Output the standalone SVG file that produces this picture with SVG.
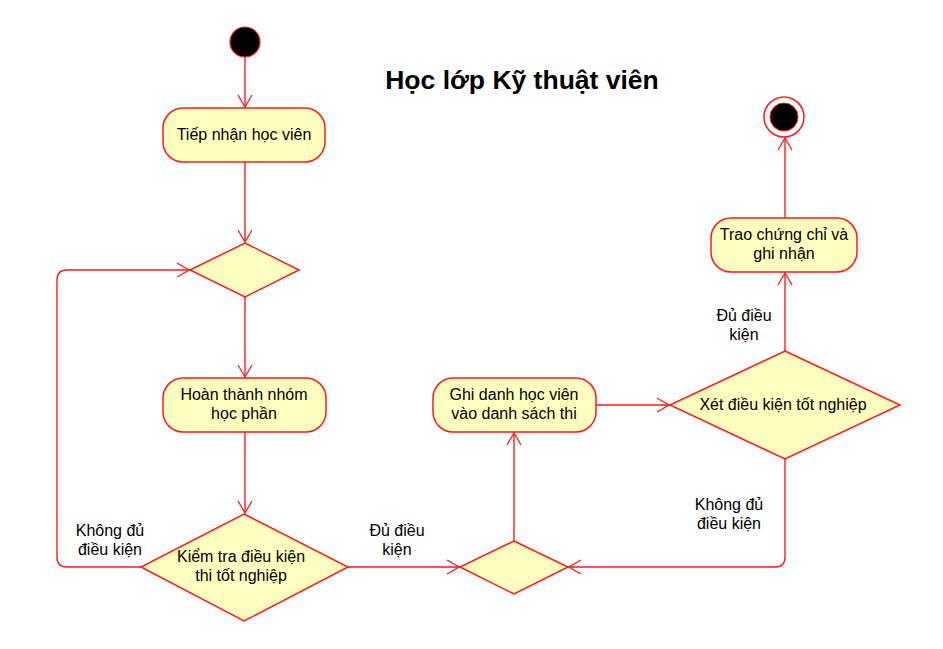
<svg xmlns="http://www.w3.org/2000/svg" width="943" height="649" viewBox="0 0 943 649">
<defs>
<marker id="arr" viewBox="0 0 14 16" refX="13" refY="8" markerWidth="14" markerHeight="16" markerUnits="userSpaceOnUse" orient="auto">
<path d="M1,1 L13,8 L1,15" fill="none" stroke="#ff1a1a" stroke-width="1.3"/>
</marker>
</defs>
<style>
.n{fill:#ffffc0;stroke:#ff1a1a;stroke-width:1.5}
.c{fill:none;stroke:#ff1a1a;stroke-width:1.4;marker-end:url(#arr)}
text{font-family:"Liberation Sans",Arial,sans-serif;font-size:16px;fill:#000}
.t{text-anchor:middle}
</style>
<rect width="943" height="649" fill="#fff"/>
<text x="522" y="89" class="t" style="font-size:26.5px;font-weight:bold">Học lớp Kỹ thuật viên</text>
<g id="connectors">
<path class="c" d="M245,57 L245,107"/>
<path class="c" d="M245,162 L245,242"/>
<path class="c" d="M245,297 L245,377"/>
<path class="c" d="M245,432 L245,513"/>
<path class="c" d="M141,567 L67,567 Q57,567 57,557 L57,280 Q57,270 67,270 L189,270"/>
<path class="c" d="M348,567 L459,567"/>
<path class="c" d="M514,541 L514,433"/>
<path class="c" d="M596,405 L669,405"/>
<path class="c" d="M785,459 L785,557 Q785,567 775,567 L569,567"/>
<path class="c" d="M785,351 L785,273"/>
<path class="c" d="M785,218 L785,138"/>
<text x="110" y="536" class="t">Không đủ</text>
<text x="110" y="555" class="t">điều kiện</text>
<text x="397" y="536" class="t">Đủ điều</text>
<text x="397" y="555" class="t">kiện</text>
<text x="729" y="510" class="t">Không đủ</text>
<text x="729" y="529" class="t">điều kiện</text>
<text x="744" y="321" class="t">Đủ điều</text>
<text x="744" y="340" class="t">kiện</text>
</g>
<g id="start">
<circle cx="245" cy="42" r="15" fill="#000" stroke="#ff1a1a" stroke-width="1.2"/>
</g>
<g id="n1">
<rect class="n" x="163" y="108" width="162" height="54" rx="20"/>
<text x="244" y="140" class="t">Tiếp nhận học viên</text>
</g>
<g id="d1">
<polygon class="n" points="245,243 299,270 245,297 190,270"/>
</g>
<g id="n2">
<rect class="n" x="163" y="378" width="163" height="54" rx="20"/>
<text x="244" y="400" class="t">Hoàn thành nhóm</text>
<text x="244" y="419" class="t">học phần</text>
</g>
<g id="d2">
<polygon class="n" points="244,514 348,567 244,621 141,567"/>
<text x="241" y="562" class="t">Kiểm tra điều kiện</text>
<text x="241" y="581" class="t">thi tốt nghiệp</text>
</g>
<g id="d3">
<polygon class="n" points="514,541 568,567 514,594 460,567"/>
</g>
<g id="n3">
<rect class="n" x="433" y="378" width="163" height="54" rx="20"/>
<text x="514" y="400" class="t">Ghi danh học viên</text>
<text x="514" y="419" class="t">vào danh sách thi</text>
</g>
<g id="d4">
<polygon class="n" points="785,351 900,405 785,459 670,405"/>
<text x="783" y="410" class="t">Xét điều kiện tốt nghiệp</text>
</g>
<g id="n4">
<rect class="n" x="711" y="218" width="146" height="54" rx="20"/>
<text x="784" y="240" class="t">Trao chứng chỉ và</text>
<text x="784" y="259" class="t">ghi nhận</text>
</g>
<g id="end">
<circle cx="784" cy="117" r="20" fill="#fff" stroke="#ff1a1a" stroke-width="1.5"/>
<circle cx="784" cy="117" r="14" fill="#000" stroke="#ff1a1a" stroke-width="1"/>
</g>
</svg>
